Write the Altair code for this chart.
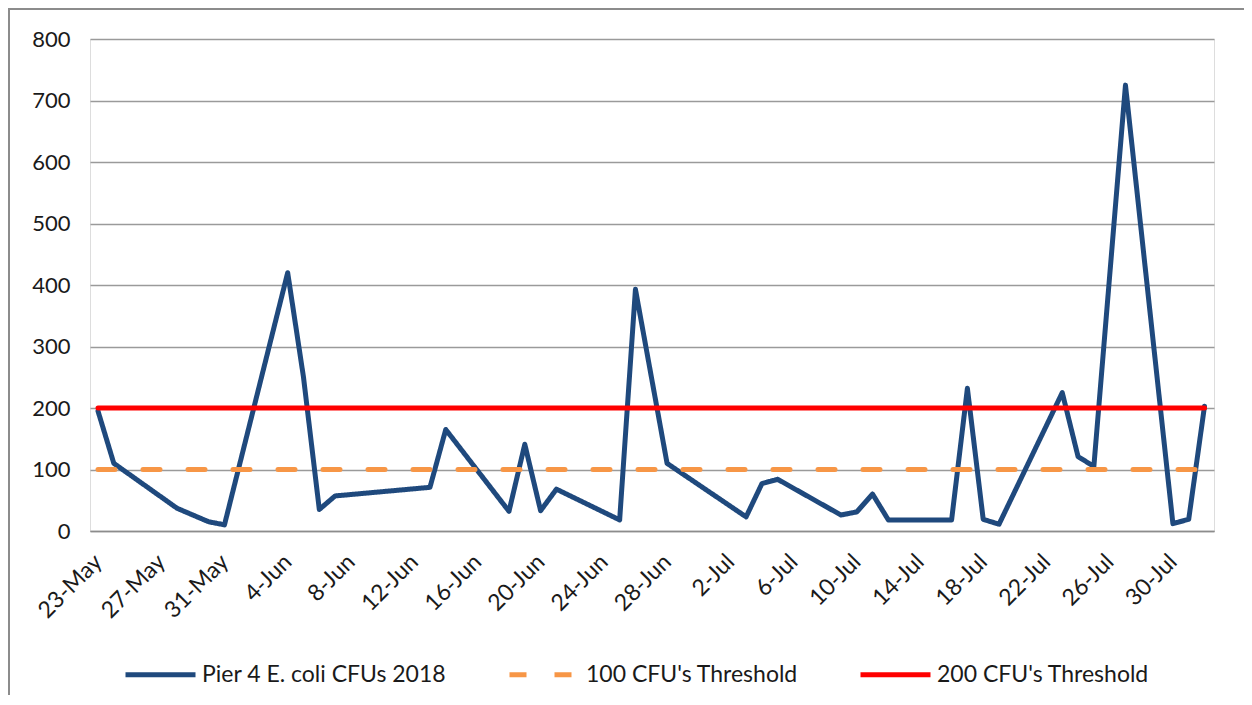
import altair as alt
import pandas as pd

# Pier 4 E. coli samples (dates and CFU values)
sample_dates = ["2018-05-23", "2018-05-24", "2018-05-28", "2018-05-30", "2018-05-31",
                "2018-06-04", "2018-06-05", "2018-06-06", "2018-06-07", "2018-06-13",
                "2018-06-14", "2018-06-18", "2018-06-19", "2018-06-20", "2018-06-21",
                "2018-06-25", "2018-06-26", "2018-06-28", "2018-07-03", "2018-07-04",
                "2018-07-05", "2018-07-09", "2018-07-10", "2018-07-11", "2018-07-12",
                "2018-07-16", "2018-07-17", "2018-07-18", "2018-07-19", "2018-07-23",
                "2018-07-24", "2018-07-25", "2018-07-27", "2018-07-30", "2018-07-31",
                "2018-08-01"]
sample_values = [195, 110, 37, 15, 10,
                 420, 250, 35, 57, 71,
                 165, 32, 141, 33, 68,
                 18, 393, 110, 23, 77,
                 84, 26, 31, 60, 18,
                 18, 232, 19, 11, 225,
                 121, 105, 725, 12, 19,
                 203]

threshold_dates = ["2018-05-23", "2018-08-01"]
threshold_100 = [100, 100]
threshold_200 = [200, 200]

series_names = ["Pier 4 E. coli CFUs 2018", "100 CFU's Threshold", "200 CFU's Threshold"]
series_colors = ["#1F497D", "#F79646", "#FF0000"]
series_dashes = [[1, 0], [17, 28], [1, 0]]

tick_dates = ["2018-05-23", "2018-05-27", "2018-05-31", "2018-06-04", "2018-06-08",
              "2018-06-12", "2018-06-16", "2018-06-20", "2018-06-24", "2018-06-28",
              "2018-07-02", "2018-07-06", "2018-07-10", "2018-07-14", "2018-07-18",
              "2018-07-22", "2018-07-26", "2018-07-30"]
y_ticks = [0, 100, 200, 300, 400, 500, 600, 700, 800]

rows = []
for d, v in zip(sample_dates, sample_values):
    rows.append({"date": d + "T00:00:00", "value": v, "series": series_names[0]})
for d, v in zip(threshold_dates, threshold_100):
    rows.append({"date": d + "T00:00:00", "value": v, "series": series_names[1]})
for d, v in zip(threshold_dates, threshold_200):
    rows.append({"date": d + "T00:00:00", "value": v, "series": series_names[2]})
df = pd.DataFrame(rows)


def to_dt(s, hours=0, minutes=0):
    y, m, d = (int(p) for p in s.split("-"))
    return alt.DateTime(year=y, month=m, date=d, hours=hours, minutes=minutes)


FONT = "Lato"

x_axis = alt.Axis(
    values=[to_dt(t) for t in tick_dates],
    format="%-d-%b",
    labelAngle=-45,
    labelAlign="right",
    labelBaseline="middle",
    labelPadding=27,
    labelFontSize=23,
    labelFont=FONT,
    labelColor="#1a1a1a",
    ticks=False,
    grid=False,
    domainColor="#8c8c8c",
    domainWidth=1.5,
    title=None,
    labelOverlap=False,
)

y_axis = alt.Axis(
    values=y_ticks,
    labelFontSize=22,
    labelFont=FONT,
    labelColor="#1a1a1a",
    labelPadding=20,
    ticks=False,
    domain=False,
    gridColor="#9a9a9a",
    gridWidth=1.5,
    title=None,
)

legend = alt.Legend(
    title=None,
    orient="none",
    legendX=33,
    legendY=598,
    direction="horizontal",
    columns=3,
    columnPadding=52,
    symbolType="stroke",
    symbolSize=4900,
    symbolStrokeWidth=5,
    labelFont=FONT,
    labelFontSize=23,
    labelColor="#1a1a1a",
    labelOffset=4,
    labelLimit=400,
)

lines = alt.Chart(df).mark_line(strokeWidth=5, strokeCap="round", strokeJoin="round").encode(
    x=alt.X("date:T", axis=x_axis,
            scale=alt.Scale(domain=[to_dt("2018-05-22", 11, 51), to_dt("2018-08-01", 14, 24)])),
    y=alt.Y("value:Q", axis=y_axis, scale=alt.Scale(domain=[0, 800], nice=False)),
    color=alt.Color("series:N", scale=alt.Scale(domain=series_names, range=series_colors),
                    legend=legend),
    strokeDash=alt.StrokeDash("series:N", scale=alt.Scale(domain=series_names, range=series_dashes),
                              legend=legend),
)

frame_df = pd.DataFrame({"k": [0]})
frame_left = alt.Chart(frame_df).mark_rule(color="#8c8c8c", strokeWidth=2).encode(
    x=alt.value(-81), y=alt.value(-30), y2=alt.value(700)
)
frame_top = alt.Chart(frame_df).mark_rule(color="#8c8c8c", strokeWidth=2).encode(
    x=alt.value(-82), x2=alt.value(1170), y=alt.value(-30)
)

chart = alt.layer(lines, frame_left, frame_top).properties(
    width=1124,
    height=492,
    autosize=alt.AutoSizeParams(type="none"),
    padding={"left": 82, "top": 31, "right": 30, "bottom": 164},
).configure_view(
    fill="#E6E6E6", stroke=None
).configure(background="white")

chart.save("out.html", embed_options={"renderer": "svg", "actions": False})
